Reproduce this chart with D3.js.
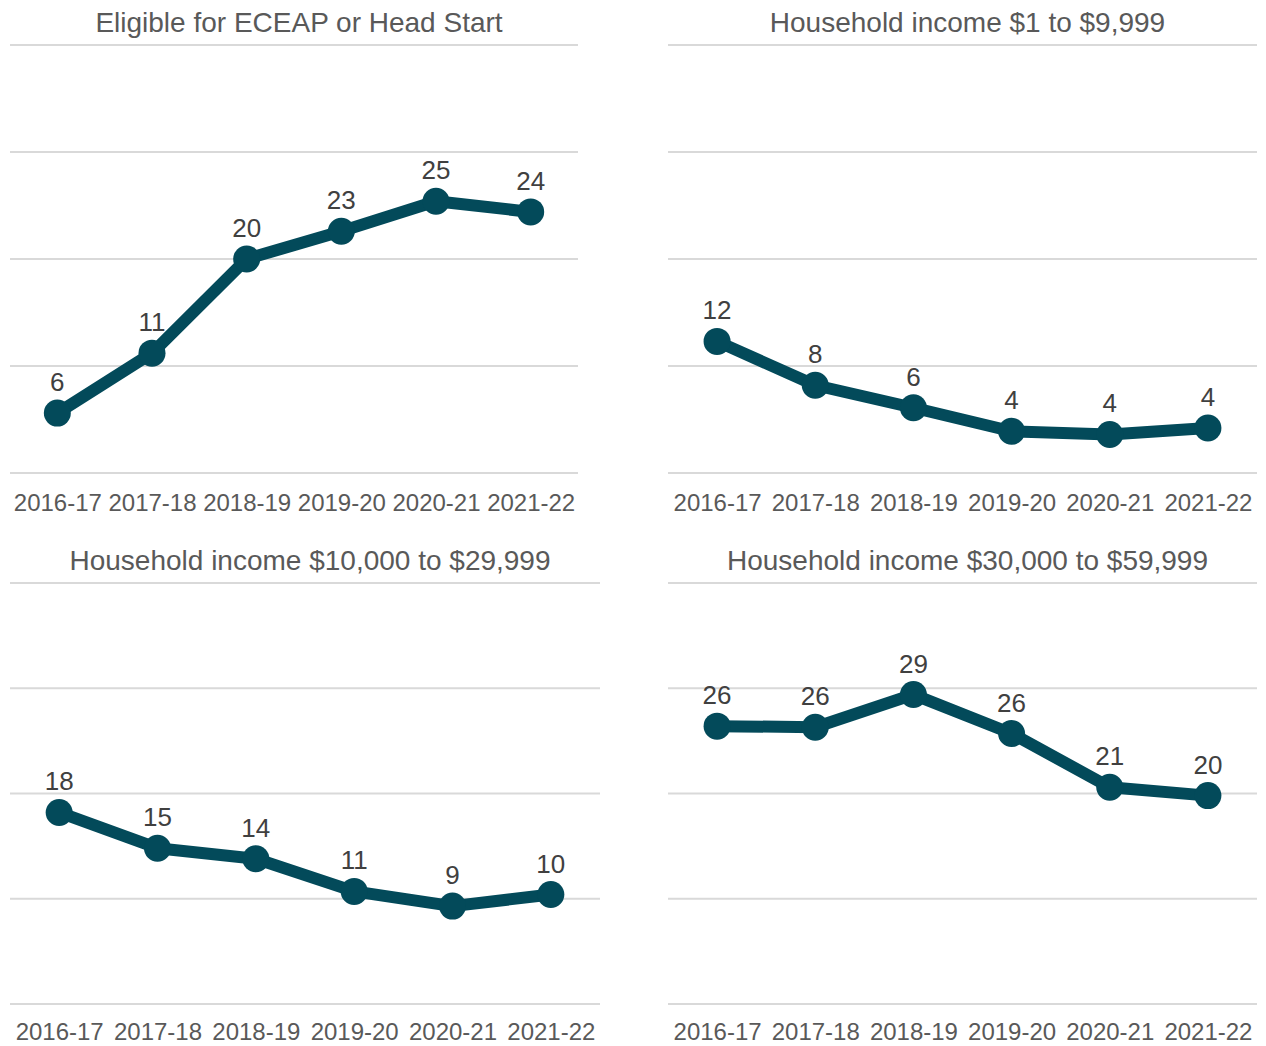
<!DOCTYPE html>
<html>
<head>
<meta charset="utf-8">
<script src="https://cdn.jsdelivr.net/npm/d3@7"></script>
<style>
  body { margin: 0; background: #fff; }
  svg { display: block; font-family: "Liberation Sans", Arial, sans-serif; }
</style>
</head>
<body>
<svg id="chart" width="1266" height="1046"></svg>
<script>
// school years along the x axis
const years = ["2016-17", "2017-18", "2018-19", "2019-20", "2020-21", "2021-22"];
const gridTicks = [0, 10, 20, 30, 40];

// panel titles
const titles = [
  "Eligible for ECEAP or Head Start",
  "Household income $1 to $9,999",
  "Household income $10,000 to $29,999",
  "Household income $30,000 to $59,999",
];

// values per panel (labels show them rounded)
const eceapValues = [5.6, 11.2, 20.0, 22.6, 25.4, 24.4];
const under10kValues = [12.3, 8.2, 6.1, 3.9, 3.6, 4.2];
const from10to30kValues = [18.2, 14.8, 13.8, 10.7, 9.3, 10.4];
const from30to60kValues = [26.4, 26.3, 29.4, 25.7, 20.6, 19.8];

const lineColor = "#034a5a";

const svg = d3.select("#chart");

// panel boxes: x0/x1 gridline extent, y0/y1 plot top/bottom
const panels = [
  { title: titles[0], values: eceapValues, x0: 10, x1: 578, y0: 45, y1: 473, tickY: 511 },
  { title: titles[1], values: under10kValues, x0: 668, x1: 1257, y0: 45, y1: 473, tickY: 511 },
  { title: titles[2], values: from10to30kValues, x0: 10, x1: 600, y0: 583, y1: 1004, tickY: 1040 },
  { title: titles[3], values: from30to60kValues, x0: 668, x1: 1257, y0: 583, y1: 1004, tickY: 1040 },
];

panels.forEach((p) => {
  const g = svg.append("g");

  const x = d3.scalePoint().domain(years).range([p.x0, p.x1]).padding(0.5);
  const y = d3.scaleLinear().domain([0, 40]).range([p.y1, p.y0]);

  // horizontal gridlines
  g.selectAll(".grid")
    .data(gridTicks)
    .join("line")
    .attr("x1", p.x0)
    .attr("x2", p.x1)
    .attr("y1", (d) => y(d))
    .attr("y2", (d) => y(d))
    .attr("stroke", "#d9d9d9")
    .attr("stroke-width", 2);

  // title
  g.append("text")
    .text(p.title)
    .attr("x", (p.x0 + p.x1) / 2 + 5)
    .attr("y", p.y0 - 13)
    .attr("text-anchor", "middle")
    .style("font-size", "28px")
    .style("fill", "#595959");

  // x axis labels
  const xAxis = d3.axisBottom(x).tickSize(0).tickPadding(0);
  g.append("g")
    .attr("transform", `translate(0, ${p.tickY})`)
    .call(xAxis)
    .call((a) => a.select(".domain").remove())
    .call((a) =>
      a.selectAll("text")
        .attr("dy", 0)
        .attr("y", 0)
        .style("font-family", "'Liberation Sans', Arial, sans-serif")
        .style("font-size", "24px")
        .style("fill", "#595959")
    );

  const pts = years.map((yr, i) => ({ year: yr, value: p.values[i] }));

  // line
  const line = d3.line().x((d) => x(d.year)).y((d) => y(d.value));
  g.append("path")
    .datum(pts)
    .attr("d", line)
    .attr("fill", "none")
    .attr("stroke", lineColor)
    .attr("stroke-width", 12)
    .attr("stroke-linejoin", "round");

  // markers
  g.selectAll(".dot")
    .data(pts)
    .join("circle")
    .attr("cx", (d) => x(d.year))
    .attr("cy", (d) => y(d.value))
    .attr("r", 13.5)
    .attr("fill", lineColor);

  // data labels
  g.selectAll(".label")
    .data(pts)
    .join("text")
    .text((d) => d3.format(".0f")(d.value))
    .attr("x", (d) => x(d.year))
    .attr("y", (d) => y(d.value) - 22)
    .attr("text-anchor", "middle")
    .style("font-size", "26px")
    .style("fill", "#404040");
});
</script>
</body>
</html>
